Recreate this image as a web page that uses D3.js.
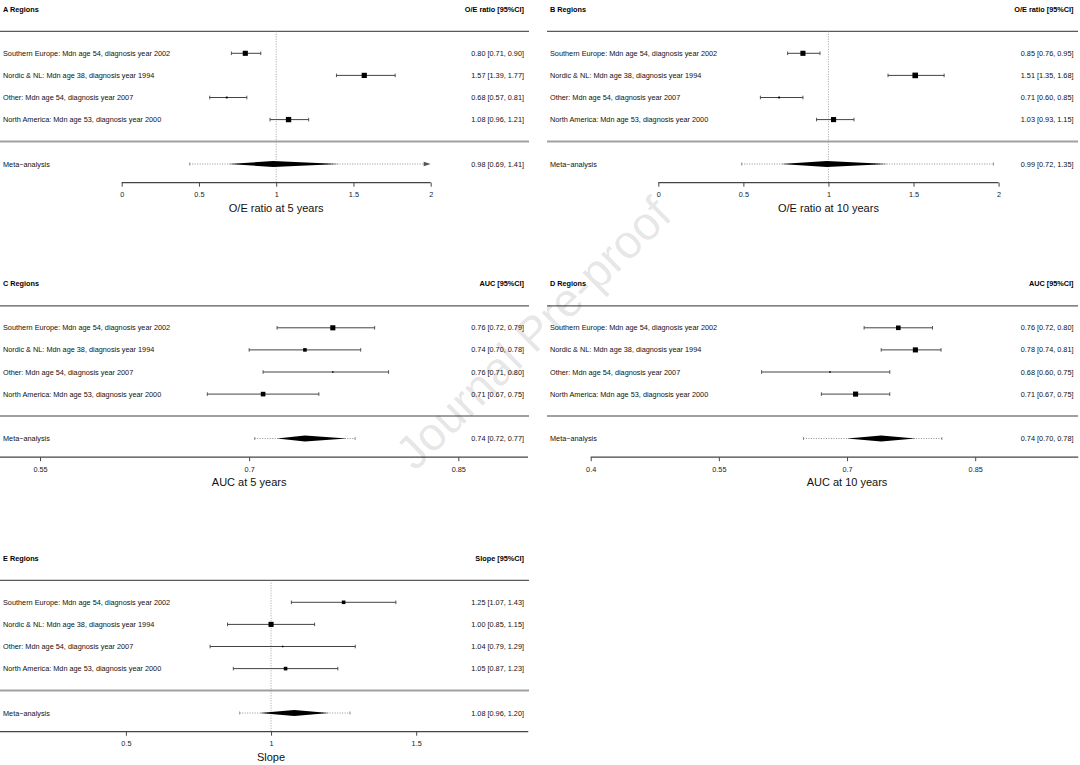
<!DOCTYPE html>
<html>
<head>
<meta charset="utf-8">
<script src="https://cdnjs.cloudflare.com/ajax/libs/d3/7.8.5/d3.min.js"></script>
<style>
  body { margin: 0; background: #fff; }
  svg { display: block; font-family: "Liberation Sans", Arial, Helvetica, sans-serif; }
</style>
</head>
<body>
<svg width="1080" height="765"></svg>
<script>
// Row labels, same in every panel
const regions = [
    'Southern Europe: Mdn age 54, diagnosis year 2002',
    'Nordic & NL: Mdn age 38, diagnosis year 1994',
    'Other: Mdn age 54, diagnosis year 2007',
    'North America: Mdn age 53, diagnosis year 2000'
];
const metaLabel = 'Meta\u2212analysis';

// A - O/E ratio at 5 years
const oe5Est = [0.80, 1.57, 0.68, 1.08];
const oe5Lo  = [0.71, 1.39, 0.57, 0.96];
const oe5Hi  = [0.90, 1.77, 0.81, 1.21];
const oe5Wt  = [0.91, 0.93, 0.33, 0.95];
const oe5Meta = [0.98, 0.69, 1.41];   // estimate, lower, upper
const oe5Pi   = [0.44, 2.30];         // prediction interval (runs off the axis)

// B - O/E ratio at 10 years
const oe10Est = [0.85, 1.51, 0.71, 1.03];
const oe10Lo  = [0.76, 1.35, 0.60, 0.93];
const oe10Hi  = [0.95, 1.68, 0.85, 1.15];
const oe10Wt  = [0.91, 1.00, 0.33, 0.91];
const oe10Meta = [0.99, 0.72, 1.35];
const oe10Pi   = [0.49, 1.97];

// C - AUC at 5 years
const auc5Est = [0.76, 0.74, 0.76, 0.71];
const auc5Lo  = [0.72, 0.70, 0.71, 0.67];
const auc5Hi  = [0.79, 0.78, 0.80, 0.75];
const auc5Wt  = [0.91, 0.64, 0.27, 0.82];
const auc5Meta = [0.74, 0.72, 0.77];
const auc5Pi   = [0.704, 0.776];

// D - AUC at 10 years
const auc10Est = [0.76, 0.78, 0.68, 0.71];
const auc10Lo  = [0.72, 0.74, 0.60, 0.67];
const auc10Hi  = [0.80, 0.81, 0.75, 0.75];
const auc10Wt  = [0.82, 0.91, 0.27, 0.91];
const auc10Meta = [0.74, 0.70, 0.78];
const auc10Pi   = [0.649, 0.811];

// E - calibration slope
const slopeEst = [1.25, 1.00, 1.04, 1.05];
const slopeLo  = [1.07, 0.85, 0.79, 0.87];
const slopeHi  = [1.43, 1.15, 1.29, 1.23];
const slopeWt  = [0.64, 0.91, 0.27, 0.64];
const slopeMeta = [1.08, 0.96, 1.20];
const slopePi   = [0.892, 1.272];

// Tick labels
const ticksOE    = [0, 0.5, 1, 1.5, 2];
const ticksAuc5  = [0.55, 0.7, 0.85];
const ticksAuc10 = [0.4, 0.55, 0.7, 0.85];
const ticksSlope = [0.5, 1, 1.5];

// layout of the five panels (pixels)
const leftCol  = {left: 0,   right: 529,  labelX: 3,   valueX: 524};
const rightCol = {left: 547, right: 1078, labelX: 550, valueX: 1073.5};

const panels = [
    {id: 'A', col: leftCol, dy: 0, head: 'O/E ratio [95%CI]', title: 'O/E ratio at 5 years',
     est: oe5Est, lo: oe5Lo, hi: oe5Hi, wt: oe5Wt, meta: oe5Meta, pi: oe5Pi, ticks: ticksOE,
     dom: [0, 2], rng: [121.7, 430.7], axisExt: [0, 2], ref: 1, titleAt: 1},
    {id: 'B', col: rightCol, dy: 0, head: 'O/E ratio [95%CI]', title: 'O/E ratio at 10 years',
     est: oe10Est, lo: oe10Lo, hi: oe10Hi, wt: oe10Wt, meta: oe10Meta, pi: oe10Pi, ticks: ticksOE,
     dom: [0, 2], rng: [658.3, 998.6], axisExt: [0, 2], ref: 1, titleAt: 1},
    {id: 'C', col: leftCol, dy: 274.5, head: 'AUC [95%CI]', title: 'AUC at 5 years',
     est: auc5Est, lo: auc5Lo, hi: auc5Hi, wt: auc5Wt, meta: auc5Meta, pi: auc5Pi, ticks: ticksAuc5,
     dom: [0.55, 0.85], rng: [40, 458.3], axisExt: [0.5213, 0.9], ref: null, titleAt: 0.7},
    {id: 'D', col: rightCol, dy: 274.5, head: 'AUC [95%CI]', title: 'AUC at 10 years',
     est: auc10Est, lo: auc10Lo, hi: auc10Hi, wt: auc10Wt, meta: auc10Meta, pi: auc10Pi, ticks: ticksAuc10,
     dom: [0.4, 0.85], rng: [590.7, 975.2], axisExt: [0.4, 0.9706], ref: null, titleAt: 0.7},
    {id: 'E', col: leftCol, dy: 549, head: 'Slope [95%CI]', title: 'Slope',
     est: slopeEst, lo: slopeLo, hi: slopeHi, wt: slopeWt, meta: slopeMeta, pi: slopePi, ticks: ticksSlope,
     dom: [0.5, 1.5], rng: [125.9, 416.2], axisExt: [0.066, 1.886], ref: 1, titleAt: 1}
];

const svg = d3.select('svg');
const f2 = d3.format('.2f');
const ciText = (e, l, h) => `${f2(e)} [${f2(l)}, ${f2(h)}]`;

const headY = 9, topLineY = 31.3, sepY = 141.5, metaY = 164, axisY = 182.7;
const fs = 7.3;
const y = d3.scaleLinear().domain([0, 3]).range([53.3, 119.6]);
const boxSize = d3.scaleLinear().domain([0, 1]).range([0, 5.6]);

panels.forEach(p => {
    const c = p.col;
    const g = svg.append('g').attr('transform', `translate(0,${p.dy})`);
    const x = d3.scaleLinear().domain(p.dom).range(p.rng);

    // header row
    g.append('text').attr('x', c.labelX).attr('y', headY).attr('dy', '0.35em')
        .attr('font-size', fs).attr('font-weight', 'bold').text(p.id + ' Regions');
    g.append('text').attr('x', c.valueX).attr('y', headY).attr('dy', '0.35em')
        .attr('text-anchor', 'end').attr('font-size', fs).attr('font-weight', 'bold').text(p.head);

    // horizontal rules
    g.append('line').attr('x1', c.left).attr('x2', c.right).attr('y1', topLineY).attr('y2', topLineY)
        .attr('stroke', '#5a5a5a').attr('stroke-width', 1.2);
    g.append('line').attr('x1', c.left).attr('x2', c.right).attr('y1', sepY).attr('y2', sepY)
        .attr('stroke', '#a0a0a0').attr('stroke-width', 2);

    // reference line at 1
    if (p.ref != null) {
        g.append('line').attr('x1', x(p.ref)).attr('x2', x(p.ref))
            .attr('y1', topLineY).attr('y2', axisY)
            .attr('stroke', '#8a8a8a').attr('stroke-width', 0.8).attr('stroke-dasharray', '1,1.5');
    }

    const rows = regions.map((r, i) => ({label: r, est: p.est[i], lo: p.lo[i], hi: p.hi[i], wt: p.wt[i], i: i}));

    const rg = g.selectAll('g.row').data(rows).enter().append('g').attr('class', 'row');
    rg.append('text').attr('x', c.labelX).attr('y', d => y(d.i)).attr('dy', '0.35em')
        .attr('font-size', fs).attr('fill', '#111').text(d => d.label);
    rg.append('text').attr('x', c.valueX).attr('y', d => y(d.i)).attr('dy', '0.35em')
        .attr('text-anchor', 'end').attr('font-size', fs).attr('fill', '#111')
        .text(d => ciText(d.est, d.lo, d.hi));
    rg.append('line').attr('x1', d => x(d.lo)).attr('x2', d => x(d.hi))
        .attr('y1', d => y(d.i)).attr('y2', d => y(d.i))
        .attr('stroke', '#444').attr('stroke-width', 1);
    ['lo', 'hi'].forEach(k => {
        rg.append('line').attr('x1', d => x(d[k])).attr('x2', d => x(d[k]))
            .attr('y1', d => y(d.i) - 1.8).attr('y2', d => y(d.i) + 1.8)
            .attr('stroke', '#444').attr('stroke-width', 0.9);
    });
    rg.append('rect')
        .attr('x', d => x(d.est) - boxSize(d.wt) / 2).attr('y', d => y(d.i) - boxSize(d.wt) / 2)
        .attr('width', d => boxSize(d.wt)).attr('height', d => boxSize(d.wt))
        .attr('fill', '#000');

    // meta-analysis row
    const [mE, mL, mH] = p.meta;
    g.append('text').attr('x', c.labelX).attr('y', metaY).attr('dy', '0.35em')
        .attr('font-size', fs).attr('fill', '#111').text(metaLabel);
    g.append('text').attr('x', c.valueX).attr('y', metaY).attr('dy', '0.35em')
        .attr('text-anchor', 'end').attr('font-size', fs).attr('fill', '#111').text(ciText(mE, mL, mH));

    // prediction interval (dotted), clipped with an arrow if it leaves the axis
    const piLo = p.pi[0];
    const clipped = p.pi[1] > p.axisExt[1];
    const piHiX = clipped ? x(p.axisExt[1]) - 6 : x(p.pi[1]);
    g.append('line').attr('x1', x(piLo)).attr('x2', piHiX).attr('y1', metaY).attr('y2', metaY)
        .attr('stroke', '#777').attr('stroke-width', 0.8).attr('stroke-dasharray', '1,1.5');
    g.append('line').attr('x1', x(piLo)).attr('x2', x(piLo)).attr('y1', metaY - 1.5).attr('y2', metaY + 1.5)
        .attr('stroke', '#777').attr('stroke-width', 0.8);
    if (clipped) {
        const ax = x(p.axisExt[1]);
        g.append('path').attr('d', `M${ax - 7},${metaY - 2.2} L${ax},${metaY} L${ax - 7},${metaY + 2.2} Z`)
            .attr('fill', '#555');
    } else {
        g.append('line').attr('x1', piHiX).attr('x2', piHiX).attr('y1', metaY - 1.5).attr('y2', metaY + 1.5)
            .attr('stroke', '#777').attr('stroke-width', 0.8);
    }
    g.append('path')
        .attr('d', `M${x(mL)},${metaY} L${x(mE)},${metaY - 3} L${x(mH)},${metaY} L${x(mE)},${metaY + 3} Z`)
        .attr('fill', '#000');

    // x axis
    const axis = d3.axisBottom(x).tickValues(p.ticks).tickSize(4).tickSizeOuter(0)
        .tickPadding(5.5).tickFormat(d => String(d));
    const ag = g.append('g').attr('transform', `translate(0,${axisY})`).call(axis);
    ag.attr('font-family', null).attr('font-size', fs);
    ag.select('.domain').remove();
    ag.selectAll('.tick line').attr('stroke', '#333').attr('stroke-width', 0.9);
    ag.selectAll('.tick text').attr('fill', '#222');
    ag.append('line').attr('x1', x(p.axisExt[0])).attr('x2', x(p.axisExt[1]))
        .attr('stroke', '#444').attr('stroke-width', 1.2);

    g.append('text').attr('x', x(p.titleAt)).attr('y', 208).attr('dy', '0.35em')
        .attr('text-anchor', 'middle').attr('font-size', 11).attr('fill', '#111').text(p.title);
});

// watermark
svg.append('text')
    .attr('transform', 'translate(533,333) rotate(-44.5)')
    .attr('text-anchor', 'middle').attr('dy', '0.35em')
    .attr('font-size', 47).attr('fill', '#000').attr('fill-opacity', 0.11)
    .text('Journal Pre-proof');
</script>
</body>
</html>
